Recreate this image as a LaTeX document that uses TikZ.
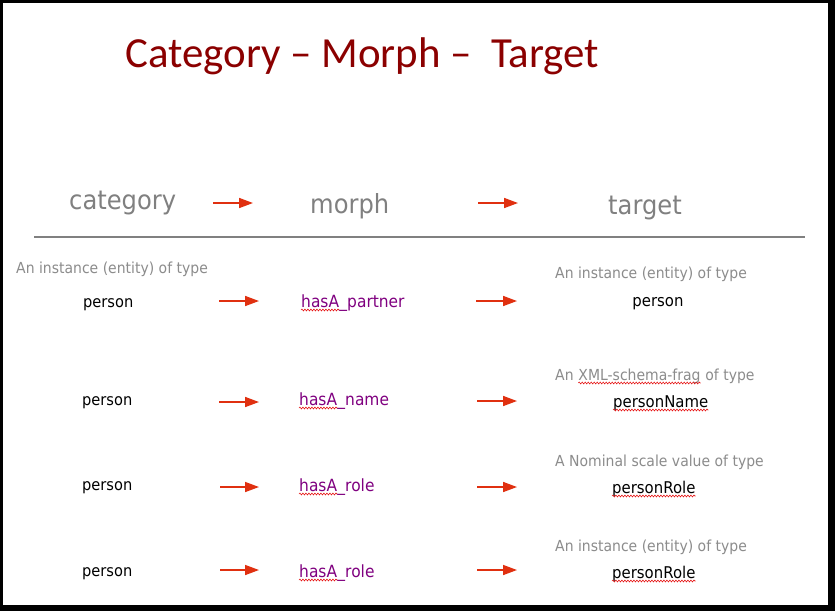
\documentclass[tikz,border=0pt]{standalone}
\usepackage{fontspec}
\setmainfont[FakeStretch=0.92]{DejaVu Sans}
\newfontfamily\titlefont{Carlito}
\usetikzlibrary{arrows.meta,decorations.pathmorphing}
\definecolor{titlered}{RGB}{139,0,0}
\definecolor{hdrgray}{RGB}{128,128,128}
\definecolor{descgray}{RGB}{140,140,140}
\definecolor{morphpurple}{RGB}{128,0,128}
\definecolor{arrowred}{RGB}{224,48,16}
\definecolor{squigred}{RGB}{230,20,20}
\definecolor{rulegray}{RGB}{128,128,128}
\begin{document}
\begin{tikzpicture}[x=1pt,y=-1pt,
  txt/.style={inner sep=0pt, anchor=base west},
  hdr/.style={txt, text=hdrgray, font=\fontsize{26.3}{30}\selectfont},
  desc/.style={txt, text=descgray, font=\fontsize{15.2}{18}\selectfont},
  cat/.style={txt, text=black, font=\fontsize{15.9}{18}\selectfont},
  mor/.style={txt, text=morphpurple, font=\fontsize{16.8}{19}\selectfont},
  tgt/.style={txt, text=black, font=\fontsize{16.2}{19}\selectfont},
  arr/.style={-{Triangle[length=14pt,width=10pt]}, line width=1.6pt, draw=arrowred, fill=arrowred},
  squig/.style={draw=squigred, line width=0.6pt, decorate, decoration={snake, amplitude=0.9pt, segment length=3pt}},
]
\useasboundingbox (0,0) rectangle (835,611);
% frame
\fill[black] (0,0) rectangle (835,611);
\fill[white] (3,3) rectangle (828,605);

% title
\node[txt, text=titlered, font=\titlefont\fontsize{42.9}{48}\selectfont] (title) at (125,67) {Category – Morph –\ \ Target};

% headers
\node[hdr] (hcat) at (69,209) {category};
\node[hdr] (hmor) at (310,213) {morph};
\node[hdr] (htgt) at (608,214) {target};
\coordinate (ha1s) at (213,203); \coordinate (ha1e) at (253,203);
\coordinate (ha2s) at (478,203); \coordinate (ha2e) at (518,203);
\draw[arr] (ha1s) -- (ha1e);
\draw[arr] (ha2s) -- (ha2e);

% rule
\coordinate (rl) at (34,237); \coordinate (rr) at (805,237);
\draw[rulegray, line width=2pt] (rl) -- (rr);

% row 1
\node[desc] (d1l) at (16,273) {An instance (entity) of type};
\node[cat] (c1) at (83,307) {person};
\node[mor] (m1a) at (301,307) {hasA};
\node[mor] (m1b) at (m1a.base east) {\_partner};
\node[desc] (d1r) at (555,278) {An instance (entity) of type};
\node[tgt, anchor=base] (t1) at (658,306) {person};
\coordinate (a1s) at (219,301); \coordinate (a1e) at (259,301);
\coordinate (b1s) at (476,301); \coordinate (b1e) at (517,301);
\draw[arr] (a1s) -- (a1e);
\draw[arr] (b1s) -- (b1e);
\draw[squig] ([yshift=-3pt]m1a.base west) -- ([yshift=-3pt]m1a.base east);

% row 2
\node[cat] (c2) at (82,405) {person};
\node[mor] (m2a) at (299,405) {hasA};
\node[mor] (m2b) at (m2a.base east) {\_name};
\node[desc] (d2a) at (555,380) {An};
\node[desc] (d2b) at ([xshift=4.45pt]d2a.base east) {XML-schema-frag};
\node[desc] (d2c) at ([xshift=4.45pt]d2b.base east) {of type};
\node[tgt] (t2) at (613,407) {personName};
\coordinate (a2s) at (219,402); \coordinate (a2e) at (259,402);
\coordinate (b2s) at (477,401); \coordinate (b2e) at (517,401);
\draw[arr] (a2s) -- (a2e);
\draw[arr] (b2s) -- (b2e);
\draw[squig] ([yshift=-3pt]m2a.base west) -- ([yshift=-3pt]m2a.base east);
\draw[squig] ([yshift=-3pt]d2b.base west) -- ([yshift=-3pt]d2b.base east);
\draw[squig] ([yshift=-3pt]t2.base west) -- ([yshift=-3pt]t2.base east);

% row 3
\node[cat] (c3) at (82,490) {person};
\node[mor] (m3a) at (299,491) {hasA};
\node[mor] (m3b) at (m3a.base east) {\_role};
\node[desc] (d3r) at (555,466) {A Nominal scale value of type};
\node[tgt] (t3) at (612,493) {personRole};
\coordinate (a3s) at (220,487); \coordinate (a3e) at (259,487);
\coordinate (b3s) at (477,487); \coordinate (b3e) at (517,487);
\draw[arr] (a3s) -- (a3e);
\draw[arr] (b3s) -- (b3e);
\draw[squig] ([yshift=-3pt]m3a.base west) -- ([yshift=-3pt]m3a.base east);
\draw[squig] ([yshift=-3pt]t3.base west) -- ([yshift=-3pt]t3.base east);

% row 4
\node[cat] (c4) at (82,576) {person};
\node[mor] (m4a) at (299,577) {hasA};
\node[mor] (m4b) at (m4a.base east) {\_role};
\node[desc] (d4r) at (555,551) {An instance (entity) of type};
\node[tgt] (t4) at (612,578) {personRole};
\coordinate (a4s) at (220,570); \coordinate (a4e) at (259,570);
\coordinate (b4s) at (477,570); \coordinate (b4e) at (517,570);
\draw[arr] (a4s) -- (a4e);
\draw[arr] (b4s) -- (b4e);
\draw[squig] ([yshift=-3pt]m4a.base west) -- ([yshift=-3pt]m4a.base east);
\draw[squig] ([yshift=-3pt]t4.base west) -- ([yshift=-3pt]t4.base east);
\end{tikzpicture}
\end{document}
